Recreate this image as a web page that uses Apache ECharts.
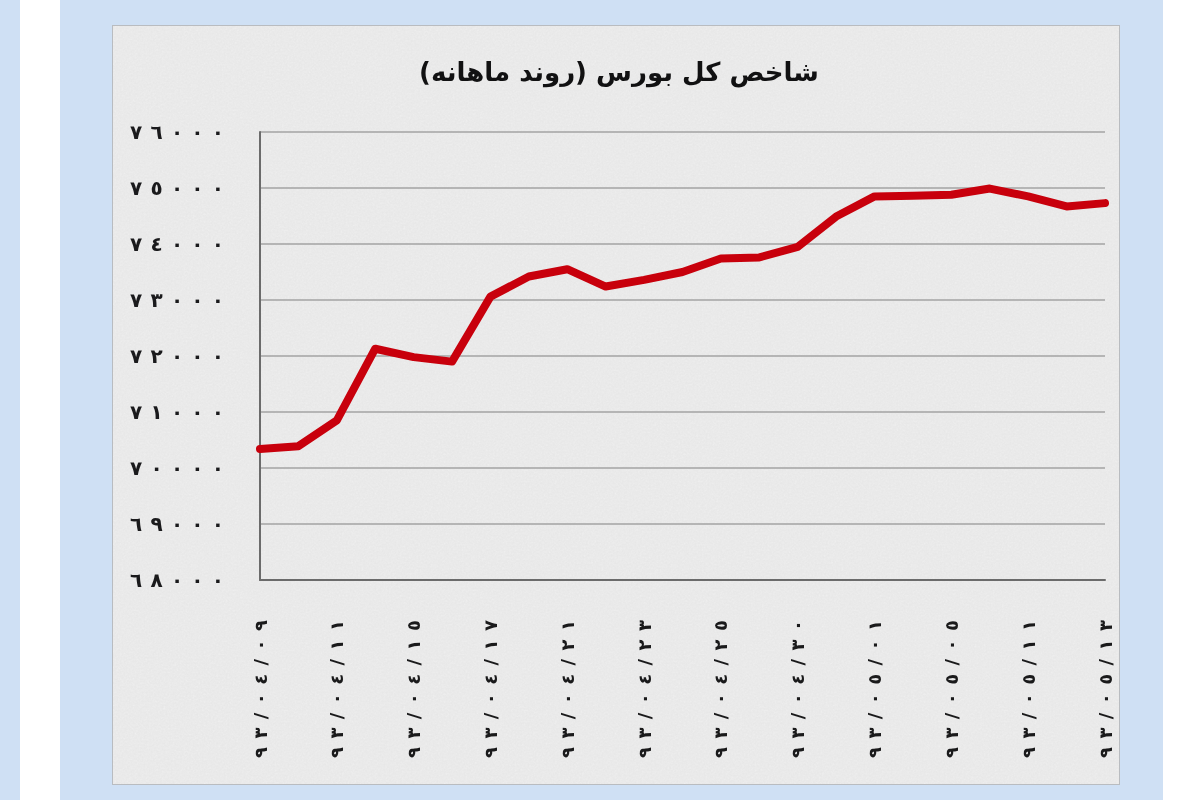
<!DOCTYPE html>
<html>
<head>
<meta charset="utf-8">
<script src="https://cdn.jsdelivr.net/npm/echarts@6/dist/echarts.min.js"></script>
<style>
  html, body { margin: 0; padding: 0; width: 1200px; height: 800px; overflow: hidden; background: #cfe0f4; }
  #stripL { position: absolute; left: 20px; top: 0; width: 40px; height: 800px; background: #ffffff; }
  #stripR { position: absolute; left: 1163px; top: 0; width: 37px; height: 800px; background: #ffffff; }
  #panel {
    position: absolute; left: 112px; top: 25px; width: 1008px; height: 760px;
    background-color: #e7e7e7;
    border: 1px solid #b9bcc0; box-sizing: border-box; overflow: hidden;
  }
  #panel::after {
    content: ""; position: absolute; inset: 0; opacity: 0.55;
    background-image: url("data:image/svg+xml;utf8,<svg xmlns='http://www.w3.org/2000/svg' width='240' height='240'><filter id='n'><feTurbulence type='fractalNoise' baseFrequency='0.55' numOctaves='3' stitchTiles='stitch'/><feColorMatrix type='saturate' values='0'/></filter><rect width='240' height='240' filter='url(%23n)'/></svg>");
    mix-blend-mode: overlay;
  }
  #chart { position: absolute; left: 0; top: 0; width: 1200px; height: 800px; }
</style>
</head>
<body>
<div id="stripL"></div>
<div id="stripR"></div>
<div id="panel"></div>
<div id="chart"></div>
<script>
// ---- data ----
const titleText = 'شاخص کل بورس (روند ماهانه)';
const categories = [
  '٩٣/٠٤/٠٩', '٩٣/٠٤/١٠', '٩٣/٠٤/١١', '٩٣/٠٤/١٤', '٩٣/٠٤/١٥', '٩٣/٠٤/١٦',
  '٩٣/٠٤/١٧', '٩٣/٠٤/١٨', '٩٣/٠٤/٢١', '٩٣/٠٤/٢٢', '٩٣/٠٤/٢٣', '٩٣/٠٤/٢٤',
  '٩٣/٠٤/٢٥', '٩٣/٠٤/٢٨', '٩٣/٠٤/٣٠', '٩٣/٠٤/٣١', '٩٣/٠٥/٠١', '٩٣/٠٥/٠٤',
  '٩٣/٠٥/٠٥', '٩٣/٠٥/٠٦', '٩٣/٠٥/١١', '٩٣/٠٥/١٢', '٩٣/٠٥/١٣'
];
const indexValues = [
  70340, 70390, 70850, 72130, 71980, 71900,
  73060, 73420, 73550, 73240, 73360, 73500,
  73740, 73760, 73950, 74490, 74850, 74860,
  74880, 74990, 74850, 74670, 74730
];
const yMin = 68000, yMax = 76000, yStep = 1000;

const arabicDigits = ['٠','١','٢','٣','٤','٥','٦','٧','٨','٩'];
function toArabic(v) { return String(v).replace(/[0-9]/g, d => arabicDigits[+d]); }

const X_LABEL_COLOR = '#1a1a1b';
const Y_LABEL_COLOR = '#1a1a1c';

const chart = echarts.init(document.getElementById('chart'), null, { renderer: 'svg' });
chart.setOption({
  backgroundColor: 'transparent',
  animation: false,
  title: {
    text: titleText,
    left: 614, top: 54, textAlign: 'center',
    textStyle: { fontFamily: 'DejaVu Sans', fontWeight: 'bold', fontSize: 26, color: '#111112' }
  },
  grid: { left: 260, top: 132, right: 95, bottom: 220, containLabel: false },
  xAxis: {
    type: 'category',
    data: categories,
    boundaryGap: false,
    axisLine: { lineStyle: { color: '#6b6b6b', width: 2 } },
    axisTick: { show: false },
    axisLabel: {
      interval: 1, rotate: 90, margin: 40,
      fontFamily: 'DejaVu Sans', fontWeight: 'bold', fontSize: 18, color: X_LABEL_COLOR
    },
    splitLine: { show: false }
  },
  yAxis: {
    type: 'value',
    min: yMin, max: yMax, interval: yStep,
    axisLine: { show: true, lineStyle: { color: '#6b6b6b', width: 2 } },
    axisTick: { show: false },
    axisLabel: {
      margin: 36,
      formatter: v => toArabic(v),
      fontFamily: 'DejaVu Sans', fontWeight: 'bold', fontSize: 20, color: Y_LABEL_COLOR
    },
    splitLine: { show: true, lineStyle: { color: '#a3a3a3', width: 1.5 } }
  },
  series: [{
    type: 'line',
    data: indexValues,
    symbol: 'none',
    smooth: false,
    lineStyle: { color: '#c8000c', width: 8, join: 'round', cap: 'round' }
  }]
});

// widen the digit spacing of axis labels (the reference uses widely spaced digits)
function spreadLabels() {
  document.querySelectorAll('#chart text[fill="' + X_LABEL_COLOR + '"]').forEach(t => {
    t.setAttribute('textLength', '138');
    t.setAttribute('lengthAdjust', 'spacing');
  });
  document.querySelectorAll('#chart text[fill="' + Y_LABEL_COLOR + '"]').forEach(t => {
    t.setAttribute('textLength', '94');
    t.setAttribute('lengthAdjust', 'spacing');
  });
}
spreadLabels();
chart.on('finished', spreadLabels);
</script>
</body>
</html>
